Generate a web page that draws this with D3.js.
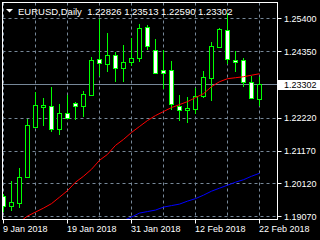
<!DOCTYPE html>
<html>
<head>
<meta charset="utf-8">
<script src="https://cdn.jsdelivr.net/npm/d3@7"></script>
<style>
  body { margin: 0; background: #000; }
  svg { display: block; }
  text { font-family: "Liberation Sans", Arial, sans-serif; }
</style>
</head>
<body>
<div id="chart"></div>
<script>
// EURUSD daily bars, 9 Jan .. 22 Feb 2018
const dates = ['2018-01-09','2018-01-10','2018-01-11','2018-01-12','2018-01-15','2018-01-16','2018-01-17','2018-01-18','2018-01-19',
  '2018-01-22','2018-01-23','2018-01-24','2018-01-25','2018-01-26','2018-01-29','2018-01-30','2018-01-31',
  '2018-02-01','2018-02-02','2018-02-05','2018-02-06','2018-02-07','2018-02-08','2018-02-09',
  '2018-02-12','2018-02-13','2018-02-14','2018-02-15','2018-02-16','2018-02-19','2018-02-20','2018-02-21','2018-02-22'];
const open  = [1.19724,1.19386,1.19501,1.20341,1.21919,1.22578,1.22587,1.21868,1.22365,1.22695,1.22587,1.22937,1.24095,1.23936,1.24223,1.23796,1.24000,
  1.24127,1.25114,1.24382,1.23745,1.23745,1.22600,1.22482,1.22505,1.22905,1.23478,1.24477,1.25018,1.24064,1.24064,1.23364,1.22826];
const high  = [1.19778,1.20201,1.20605,1.22196,1.23033,1.22855,1.23205,1.22664,1.22937,1.22727,1.23087,1.24169,1.25368,1.24932,1.24318,1.24541,1.24764,
  1.25209,1.25187,1.24732,1.24382,1.24041,1.22950,1.22896,1.23173,1.23723,1.24646,1.25091,1.25559,1.24350,1.24127,1.23555,1.23513];
const low   = [1.19205,1.19246,1.19323,1.20330,1.21905,1.21951,1.21760,1.21665,1.22210,1.22142,1.22250,1.22905,1.23564,1.23669,1.23351,1.23351,1.23860,
  1.23987,1.24382,1.23618,1.23128,1.22482,1.22123,1.22059,1.22345,1.22842,1.22746,1.24477,1.23936,1.23669,1.23192,1.22823,1.22590];
const close = [1.19386,1.19533,1.20341,1.21973,1.22632,1.22625,1.21868,1.22377,1.22218,1.22587,1.22982,1.24064,1.23968,1.24223,1.23809,1.24000,1.24127,
  1.25082,1.24509,1.23660,1.23660,1.22651,1.22482,1.22530,1.22905,1.23523,1.24509,1.25050,1.24095,1.24000,1.23364,1.22855,1.23302];

// moving averages (red starts at bar 2, blue at bar 15)
const maRed = [1.18887,1.19078,1.19205,1.19332,1.19475,1.19682,1.19889,1.20160,1.20350,1.20573,1.20860,1.21050,1.21337,1.21528,1.21750,
  1.21941,1.22132,1.22291,1.22419,1.22546,1.22641,1.22737,1.22864,1.22991,1.23214,1.23373,1.23469,1.23500,1.23532,1.23580,1.23628];
const maBlue = [1.18935,1.19046,1.19173,1.19221,1.19269,1.19364,1.19412,1.19460,1.19555,1.19635,1.19746,1.19873,1.19969,1.20064,1.20160,
  1.20239,1.20350,1.20446];

const priceTicks = [1.25400, 1.24350, 1.22220, 1.21170, 1.20120, 1.19070];
const dateTicks = ['2018-01-09','2018-01-19','2018-01-31','2018-02-12','2018-02-22'];
const title = 'EURUSD,Daily  1.22826 1.23513 1.22590 1.23302';
const lastPrice = 1.23302;

const W = 320, H = 240;
const plot = {left: 2.5, top: 2.5, right: 277.5, bottom: 219.5};

const svg = d3.select('#chart').append('svg')
  .attr('width', W)
  .attr('height', H);

svg.append('rect').attr('width', W).attr('height', H).attr('fill', '#000');

const x = d3.scaleBand()
  .domain(dates)
  .range([-0.5, -0.5 + 8 * dates.length]);
const cx = d => x(d) + x.bandwidth() / 2;

const y = d3.scaleLinear()
  .domain([1.19070, 1.25400])
  .range([216.3, 18.3]);

svg.append('clipPath').attr('id', 'clip')
  .append('rect')
  .attr('x', plot.left).attr('y', plot.top)
  .attr('width', plot.right - plot.left).attr('height', plot.bottom - plot.top);

const grid = svg.append('g').attr('stroke', '#778899').attr('stroke-dasharray', '3,3');
// horizontal grid
grid.selectAll('line.h')
  .data(priceTicks)
  .enter().append('line')
  .attr('x1', plot.left).attr('x2', plot.right)
  .attr('y1', d => Math.round(y(d)) + 0.5).attr('y2', d => Math.round(y(d)) + 0.5);
// vertical grid every 4 bars
grid.selectAll('line.v')
  .data(dates.filter((d, i) => i % 4 === 0))
  .enter().append('line')
  .attr('x1', cx).attr('x2', cx)
  .attr('y1', plot.top).attr('y2', plot.bottom);

// current price line
const yLast = Math.round(y(lastPrice)) + 0.5;
svg.append('line')
  .attr('x1', plot.left).attr('x2', plot.right)
  .attr('y1', yLast).attr('y2', yLast)
  .attr('stroke', '#778899');

const bars = svg.append('g').attr('clip-path', 'url(#clip)');
const candles = dates.map((d, i) => ({date: d, o: open[i], h: high[i], l: low[i], c: close[i]}));

bars.selectAll('line.wick')
  .data(candles)
  .enter().append('line')
  .attr('x1', d => cx(d.date)).attr('x2', d => cx(d.date))
  .attr('y1', d => Math.round(y(d.h))).attr('y2', d => Math.round(y(d.l)))
  .attr('stroke', '#00ff00');

bars.selectAll('rect.body')
  .data(candles)
  .enter().append('rect')
  .attr('x', d => cx(d.date) - 2)
  .attr('y', d => Math.round(y(Math.max(d.o, d.c))) + 0.5)
  .attr('width', 4)
  .attr('height', d => Math.max(1, Math.round(y(Math.min(d.o, d.c))) - Math.round(y(Math.max(d.o, d.c)))))
  .attr('fill', d => d.c >= d.o ? '#000' : '#fff')
  .attr('stroke', '#00ff00');

const line = d3.line().x(d => cx(d.date)).y(d => y(d.v));
bars.append('path')
  .datum(maRed.map((v, i) => ({date: dates[i + 2], v})))
  .attr('d', line).attr('fill', 'none').attr('stroke', '#ff0000').attr('stroke-width', 1);
bars.append('path')
  .datum(maBlue.map((v, i) => ({date: dates[i + 15], v})))
  .attr('d', line).attr('fill', 'none').attr('stroke', '#0000ff').attr('stroke-width', 1);

// frame
svg.append('rect')
  .attr('x', plot.left).attr('y', plot.top)
  .attr('width', plot.right - plot.left).attr('height', plot.bottom - plot.top)
  .attr('fill', 'none').attr('stroke', '#fff');

// price axis
const yAxis = svg.append('g');
yAxis.selectAll('line')
  .data(priceTicks)
  .enter().append('line')
  .attr('x1', plot.right).attr('x2', plot.right + 4)
  .attr('y1', d => Math.round(y(d)) + 0.5).attr('y2', d => Math.round(y(d)) + 0.5)
  .attr('stroke', '#fff');
yAxis.selectAll('text')
  .data(priceTicks)
  .enter().append('text')
  .attr('x', 284)
  .attr('y', d => y(d) + 3.5)
  .attr('fill', '#fff')
  .attr('font-size', 9)
  .text(d => d.toFixed(5));

// current price tag
svg.append('rect')
  .attr('x', 278).attr('y', yLast - 4.5)
  .attr('width', 42).attr('height', 10)
  .attr('fill', '#fff');
svg.append('text')
  .attr('x', 284).attr('y', yLast + 3.5)
  .attr('fill', '#000').attr('font-size', 9)
  .text(lastPrice.toFixed(5));

// date axis
const fmt = d3.timeFormat('%-d %b %Y');
const parse = d3.timeParse('%Y-%m-%d');
const xAxis = svg.append('g');
xAxis.selectAll('line')
  .data(dateTicks)
  .enter().append('line')
  .attr('x1', cx).attr('x2', cx)
  .attr('y1', plot.bottom).attr('y2', plot.bottom + 4)
  .attr('stroke', '#fff');
xAxis.selectAll('text')
  .data(dateTicks)
  .enter().append('text')
  .attr('x', d => cx(d) - 0.5)
  .attr('y', 231.5)
  .attr('fill', '#fff')
  .attr('font-size', 9)
  .text(d => fmt(parse(d)));

// title
svg.append('path')
  .attr('d', 'M6,9 L13,9 L9.5,12.5 Z')
  .attr('fill', '#fff');
svg.append('text')
  .attr('x', 18).attr('y', 14.5)
  .attr('fill', '#fff')
  .attr('font-size', 9.5)
  .attr('xml:space', 'preserve')
  .style('white-space', 'pre')
  .text(title);
</script>
</body>
</html>
